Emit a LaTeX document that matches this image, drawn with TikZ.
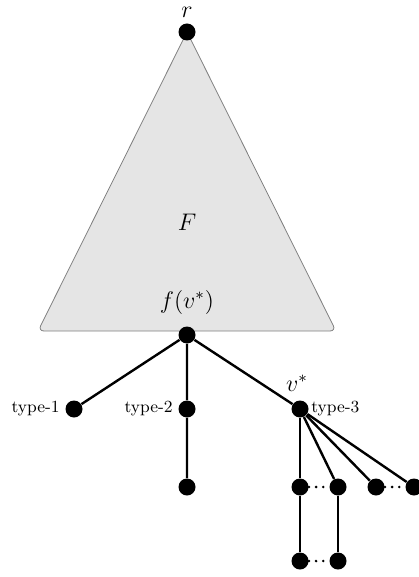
\documentclass[tikz,border=0pt]{standalone}
\usetikzlibrary{positioning}
\tikzset{
  csucs/.style={circle,fill,inner sep=0pt,minimum size=8.5pt},
  el/.style={line width=1.2pt},
  pontok/.style={line width=1.4pt,line cap=round,dash pattern=on 0pt off 3.6pt},
  fa/.style={draw=gray,fill=gray!20,rounded corners=3pt,line width=0.4pt},
  tipus/.style={font=\fontsize{8.5}{10}\selectfont,inner sep=1pt},
  felirat/.style={font=\large,inner sep=0pt},
}
\begin{document}
\begin{tikzpicture}[x=0.5pt,y=-0.5pt]
  \useasboundingbox (0,0) rectangle (418,577);
  % the tree F
  \coordinate (csucs) at (187,32);
  \coordinate (bal) at (38,331);
  \coordinate (jobb) at (336,331);
  \draw[fa] (csucs) -- (bal) -- (jobb) -- cycle;
  \node[felirat] (Fnev) at (187,222) {$F$};
  \node[felirat] (fnev) at (187,302) {$f(v^*)$};
  \node[csucs] (r) at (187,32) {};
  \node[felirat] (rnev) at (187,12) {$r$};
  \node[csucs] (f) at (187,335) {};
  % children of f(v*)
  \node[csucs] (t1) at (74,409) {};
  \node[csucs] (t2) at (187,409) {};
  \node[csucs] (v) at (300,409) {};
  \node[tipus,anchor=east] (t1nev) at (62,409) {type-1};
  \node[tipus,anchor=east] (t2nev) at (175,409) {type-2};
  \node[tipus,anchor=west] (t3nev) at (309,409) {type-3};
  \node[felirat] (vnev) at (297,383) {$v^*$};
  \node[csucs] (t2a) at (187,487) {};
  % below v*
  \node[csucs] (a1) at (300,487) {};
  \node[csucs] (a2) at (338,487) {};
  \node[csucs] (a3) at (376,487) {};
  \node[csucs] (a4) at (414,487) {};
  \node[csucs] (b1) at (300,561) {};
  \node[csucs] (b2) at (338,561) {};
  \draw[el] (f) -- (t1) (f) -- (t2) (f) -- (v) (t2) -- (t2a);
  \foreach \i in {a1,a2,a3,a4} \draw[el] (v) -- (\i);
  \draw[el] (a1) -- (b1) (a2) -- (b2);
  \draw[pontok] (a1) -- (a2) (a3) -- (a4) (b1) -- (b2);
\end{tikzpicture}
\end{document}
